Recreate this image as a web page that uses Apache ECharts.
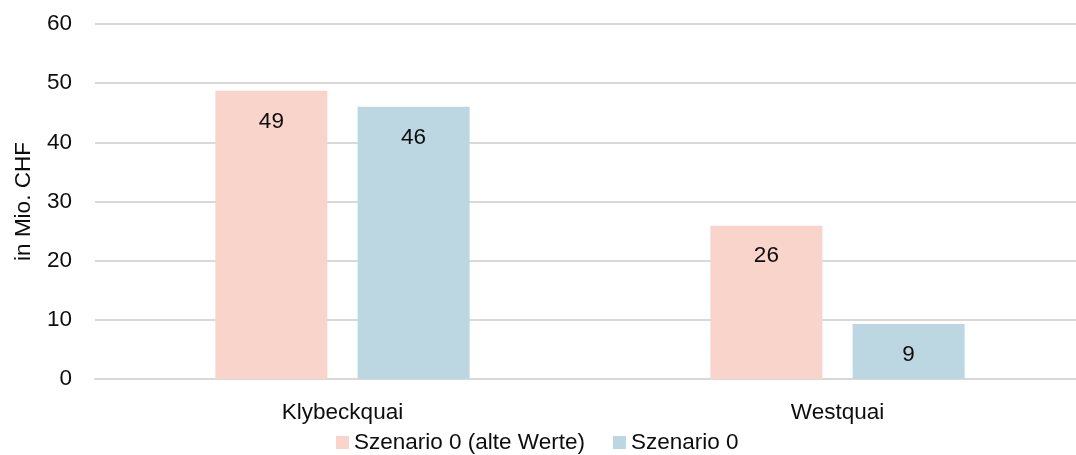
<!DOCTYPE html>
<html>
<head>
<meta charset="utf-8">
<script src="https://cdn.jsdelivr.net/npm/echarts@6/dist/echarts.min.js"></script>
<style>
  html, body { margin: 0; padding: 0; background: #ffffff; overflow: hidden; }
  /* the plot runs a few pixels past the right edge of the window */
  #chart { width: 1085px; height: 455px; }
</style>
</head>
<body>
<div id="chart"></div>
<script>
// Investitionskosten je Standort, in Mio. CHF
const categories = ['Klybeckquai', 'Westquai'];
const seriesNames = ['Szenario 0 (alte Werte)', 'Szenario 0'];
const valuesAlt = [48.7, 25.9];
const valuesNeu = [46.0, 9.3];
const yTicks = { min: 0, max: 60, interval: 10 };

const FONT = '"Liberation Sans", Arial, sans-serif';
const TEXT = '#0d0d0d';
const SIZE = 22.5;
const colors = ['#F9D4CA', '#BDD7E2'];

const chart = echarts.init(document.getElementById('chart'), null, { renderer: 'canvas' });

const labelStyle = {
  show: true,
  position: 'insideTop',
  distance: 19,
  color: TEXT,
  fontFamily: FONT,
  fontSize: SIZE,
  formatter: p => Math.round(p.value)
};

chart.setOption({
  animation: false,
  backgroundColor: '#ffffff',
  textStyle: { fontFamily: FONT, color: TEXT },
  grid: { left: 95, top: 24, right: 0, height: 355, containLabel: false },
  legend: {
    data: seriesNames,
    left: 331,
    top: 426,
    itemWidth: 13,
    itemHeight: 13,
    itemGap: 28,
    icon: 'rect',
    textStyle: { fontFamily: FONT, fontSize: SIZE, color: TEXT }
  },
  xAxis: {
    type: 'category',
    data: categories,
    axisLine: { show: true, lineStyle: { color: '#D9D9D9', width: 2 } },
    axisTick: { show: false },
    axisLabel: { margin: 22, fontFamily: FONT, fontSize: SIZE, color: TEXT }
  },
  yAxis: {
    type: 'value',
    min: yTicks.min,
    max: yTicks.max,
    interval: yTicks.interval,
    name: 'in Mio. CHF',
    nameLocation: 'middle',
    nameGap: 60,
    nameRotate: 90,
    nameTextStyle: { fontFamily: FONT, fontSize: SIZE, color: TEXT },
    axisLine: { show: false },
    axisTick: { show: false },
    axisLabel: { margin: 23, fontFamily: FONT, fontSize: SIZE, color: TEXT },
    splitLine: { lineStyle: { color: '#D9D9D9', width: 2 } }
  },
  series: [
    {
      name: seriesNames[0],
      type: 'bar',
      data: valuesAlt,
      barWidth: 112,
      barGap: '27%',
      itemStyle: { color: colors[0] },
      label: labelStyle
    },
    {
      name: seriesNames[1],
      type: 'bar',
      data: valuesNeu,
      barWidth: 112,
      barGap: '27%',
      itemStyle: { color: colors[1] },
      label: labelStyle
    }
  ]
});
</script>
</body>
</html>
